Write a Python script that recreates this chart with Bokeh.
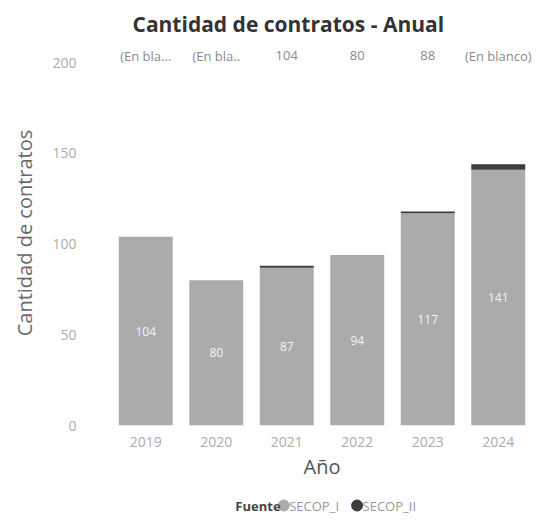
from bokeh.plotting import figure
from bokeh.layouts import column
from bokeh.models import FactorRange, Range1d, ColumnDataSource, FixedTicker
from bokeh.core.properties import value
from bokeh.embed import file_html
from bokeh.resources import INLINE

years = ["2019", "2020", "2021", "2022", "2023", "2024"]
secop_i = [104, 80, 87, 94, 117, 141]
secop_ii = [0, 0, 1, 0, 1, 3]
top_labels = ["(En bla...", "(En bla..", "104", "80", "88", "(En blanco)"]
y_ticks = [0, 50, 100, 150, 200]
legend_title = "Fuente"
legend_names = ["SECOP_I", "SECOP_II"]

FONT = "Open Sans"
C1 = "#ababab"
C2 = "#3d3d3d"
legend_colors = [C1, C2]

src = ColumnDataSource(dict(
    year=years,
    SECOP_I=secop_i,
    SECOP_II=secop_ii,
    mid=[v / 2 for v in secop_i],
    lab=[str(v) for v in secop_i],
    top=top_labels,
    top_y=[203.8] * len(years),
))

p = figure(x_range=FactorRange(factors=years, range_padding=0),
           y_range=Range1d(0, 212.2),
           frame_width=423, frame_height=385,
           min_border_left=110, min_border_right=9,
           min_border_top=40, min_border_bottom=60,
           output_backend="svg", toolbar_location=None,
           title="Cantidad de contratos - Anual")

p.title.align = "left"
p.title.offset = 22
p.title.text_font = FONT
p.title.text_font_style = "bold"
p.title.text_font_size = "21px"
p.title.text_color = "#333333"
p.title.standoff = 6

p.vbar_stack(["SECOP_I", "SECOP_II"], x="year", width=0.765, source=src,
             color=[C1, C2], line_color=None)

p.text(x="year", y="mid", text="lab", source=src, text_align="center",
       text_baseline="middle", text_color="#f4f4f4", text_font=value(FONT),
       text_font_size="12px")
p.text(x="year", y="top_y", text="top", source=src, text_align="center",
       text_baseline="middle", text_color="#8a8a8a", text_font=value(FONT),
       text_font_size="13px")

p.xgrid.visible = False
p.ygrid.visible = False
p.outline_line_color = None

p.yaxis.ticker = FixedTicker(ticks=y_ticks)
p.yaxis.axis_line_color = None
p.yaxis.major_tick_line_color = None
p.yaxis.minor_tick_line_color = None
p.yaxis.major_label_standoff = 28
p.yaxis.major_label_text_font = FONT
p.yaxis.major_label_text_font_size = "14px"
p.yaxis.major_label_text_color = "#acacac"
p.yaxis.axis_label = "Cantidad de contratos"
p.yaxis.axis_label_text_font = FONT
p.yaxis.axis_label_text_font_style = "normal"
p.yaxis.axis_label_text_font_size = "20px"
p.yaxis.axis_label_text_color = "#6a6a6a"
p.yaxis.axis_label_standoff = 11

p.xaxis.axis_line_color = None
p.xaxis.major_tick_line_color = None
p.xaxis.minor_tick_line_color = None
p.xaxis.major_label_standoff = 5
p.xaxis.major_label_text_font = FONT
p.xaxis.major_label_text_font_size = "14px"
p.xaxis.major_label_text_color = "#acacac"
p.xaxis.axis_label = "Año"
p.xaxis.axis_label_text_font = FONT
p.xaxis.axis_label_text_font_style = "normal"
p.xaxis.axis_label_text_font_size = "20px"
p.xaxis.axis_label_text_color = "#555555"
p.xaxis.axis_label_standoff = 3

# Legend strip drawn as its own small figure (pixel-unit ranges)
lg = figure(width=542, height=35, x_range=Range1d(0, 542), y_range=Range1d(0, 35),
            min_border=0, output_backend="svg", toolbar_location=None,
            x_axis_location=None, y_axis_location=None)
lg.xgrid.visible = False
lg.ygrid.visible = False
lg.outline_line_color = None

leg_src = ColumnDataSource(dict(
    gx=[222, 316], tx=[229, 323], y=[15, 15],
    name=legend_names, color=legend_colors,
))
lg.scatter(x="gx", y="y", size=11, color="color", marker="circle", source=leg_src)
lg.text(x="tx", y="y", text="name", source=leg_src, text_baseline="middle",
        text_align="left", text_font=value(FONT), text_font_size="13px",
        text_color="#999999")
lg.text(x=[160], y=[15], text=[legend_title], text_baseline="middle",
        text_align="left", text_font=value(FONT), text_font_style="bold",
        text_font_size="13px", text_color="#444444")

layout = column(p, lg, spacing=0)
open("out.html", "w").write(file_html(layout, INLINE))
